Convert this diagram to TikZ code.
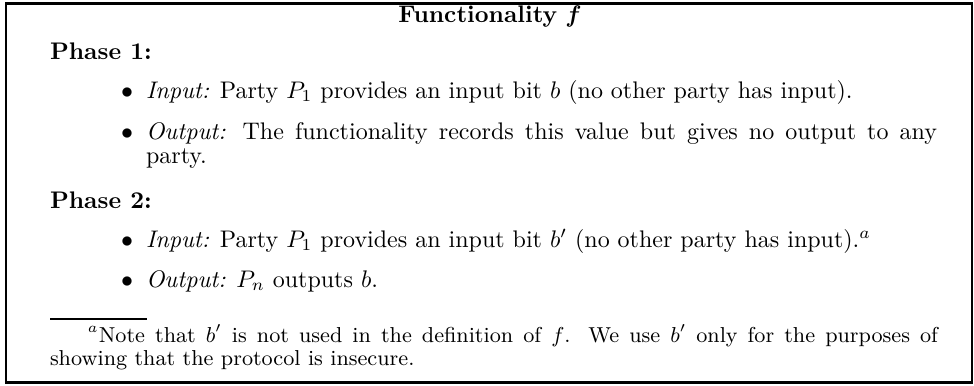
\documentclass[tikz,border=0pt]{standalone}
\usepackage{amsmath}
\begin{document}
\begin{tikzpicture}[x=0.41667pt,y=-0.41667pt]
\tikzset{
  txt/.style={anchor=base west,inner sep=0pt,outer sep=0pt,font=\fontsize{10}{10}\selectfont},
  para/.style={txt,align=justify},
  fn/.style={anchor=base west,inner sep=0pt,outer sep=0pt,align=justify,font=\fontsize{9}{9.6}\selectfont},
  boxline/.style={line width=1pt},
  rulestyle/.style={line width=0.8pt}}
\useasboundingbox (0,0) rectangle (974,385);
\draw[boxline] (6,3.5) rectangle (972,382.5);
\node[txt,anchor=base] (ttl) at (490,22) {\textbf{Functionality} $\boldsymbol{f}$};
\node[txt] (ph1) at (50,59) {\textbf{Phase 1:}};
\node[txt] (b1) at (121,98) {$\bullet$};
\node[txt] (in1) at (146,98) {\textit{Input:} Party $P_1$ provides an input bit $b$ (no other party has input).};
\node[txt] (b2) at (121,139) {$\bullet$};
\node[para,text width=329.6pt] (out1) at (146,139) {\textit{Output:} The functionality records this value but gives no output to any\linebreak party.};
\node[txt] (ph2) at (50,208) {\textbf{Phase 2:}};
\node[txt] (b3) at (121,247) {$\bullet$};
\node[txt] (in2) at (146,247) {\textit{Input:} Party $P_1$ provides an input bit $b'$ (no other party has input).$^a$};
\node[txt] (b4) at (121,287) {$\bullet$};
\node[txt] (out2) at (146,287) {\textit{Output:} $P_n$ outputs $b$.};
\coordinate (r1) at (50,319);
\coordinate (r2) at (147,319);
\draw[rulestyle] (r1) -- (r2);
\node[fn,text width=370pt] (note) at (50,342) {\hspace*{15.8pt}$^a$Note that $b'$ is not used in the definition of $f$. We use $b'$ only for the purposes of\linebreak showing that the protocol is insecure.};
\end{tikzpicture}
\end{document}
